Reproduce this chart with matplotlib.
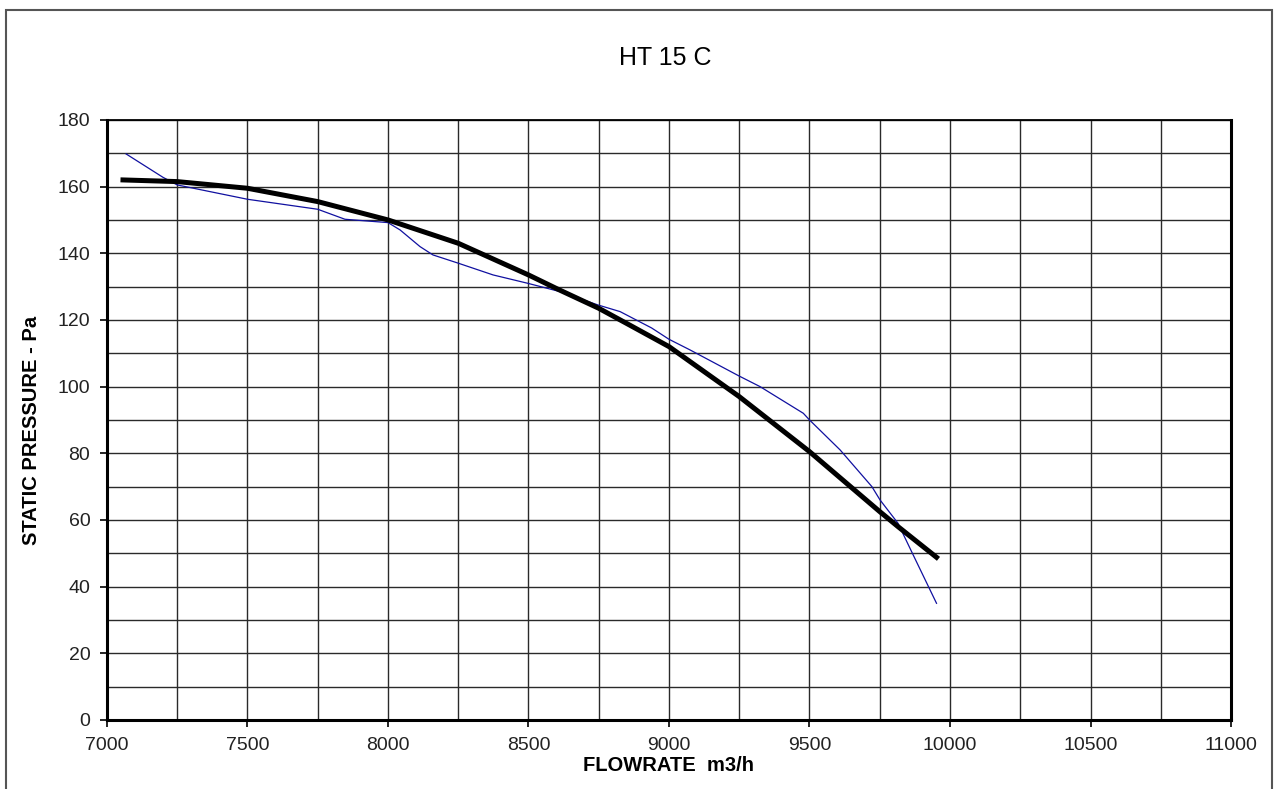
import matplotlib.pyplot as plt
from matplotlib.patches import Rectangle
from matplotlib.ticker import MultipleLocator

plt.rcParams['font.family'] = ['Liberation Sans', 'DejaVu Sans']

# fitted fan curve (thick black)
fit_flow = [7057, 7250, 7500, 7750, 8000, 8250, 8500, 8610, 8750, 8870,
            9000, 9250, 9500, 9750, 9815, 9952]
fit_pres = [162.0, 161.5, 159.5, 155.5, 150.0, 143.0, 133.5, 129.0, 123.5, 118.0,
            112.0, 97.0, 80.5, 62.5, 58.0, 48.8]

# measured curve (thin blue)
meas_flow = [7068, 7199, 7250, 7500, 7750, 7847, 8000, 8043, 8114, 8160,
             8251, 8374, 8497, 8612, 8747, 8826, 8938, 9000, 9075, 9249,
             9324, 9478, 9500, 9609, 9722, 9751, 9815, 9869, 9952]
meas_pres = [169.8, 162.8, 160.5, 156.2, 153.2, 150.2, 149.2, 147.0, 142.0, 139.5,
             137.0, 133.5, 131.0, 128.5, 124.5, 122.5, 117.6, 114.2, 111.0, 103.2,
             100.0, 92.0, 90.0, 81.0, 70.0, 66.0, 59.0, 49.5, 35.0]

title = 'HT 15 C'
xlabel = 'FLOWRATE  m3/h'
ylabel = 'STATIC PRESSURE - Pa'

fig = plt.figure(figsize=(12.75, 7.89), dpi=100)
ax = fig.add_axes([0.0839, 0.0875, 0.8816, 0.7605])

ax.plot(meas_flow, meas_pres, color='#1010a0', lw=0.9, zorder=3)
ax.plot(fit_flow, fit_pres, color='black', lw=3.6, zorder=4)

ax.set_xlim(7000, 11000)
ax.set_ylim(0, 180)
ax.xaxis.set_major_locator(MultipleLocator(500))
ax.xaxis.set_minor_locator(MultipleLocator(250))
ax.yaxis.set_major_locator(MultipleLocator(20))
ax.yaxis.set_minor_locator(MultipleLocator(10))
ax.grid(which='both', color='#2a2a2a', lw=1.0, zorder=1)
ax.set_axisbelow(True)

ax.tick_params(which='major', direction='out', length=5, width=1.2, pad=7,
               labelsize=14, colors='black')
ax.tick_params(which='minor', length=0)
for lbl in ax.get_xticklabels() + ax.get_yticklabels():
    lbl.set_color('#222222')

for side in ['left', 'bottom', 'right']:
    ax.spines[side].set_linewidth(2.2)
ax.spines['top'].set_linewidth(1.3)

ax.set_xlabel(xlabel, fontsize=14.5, fontweight='bold', labelpad=2)
fig.text(32 / 1275, 1 - 430 / 789, ylabel, rotation=90, fontsize=14.5,
         fontweight='bold', ha='center', va='center')
fig.text(665 / 1275, 1 - 58 / 789, title, fontsize=18, ha='center', va='center')

# outer frame of the chart
fig.patches.append(Rectangle((6 / 1275, -0.02), 1266 / 1275, 1.02 - 10 / 789,
                             transform=fig.transFigure, fill=False,
                             edgecolor='#555555', lw=1.5))

fig.savefig('out.png', dpi=100)
